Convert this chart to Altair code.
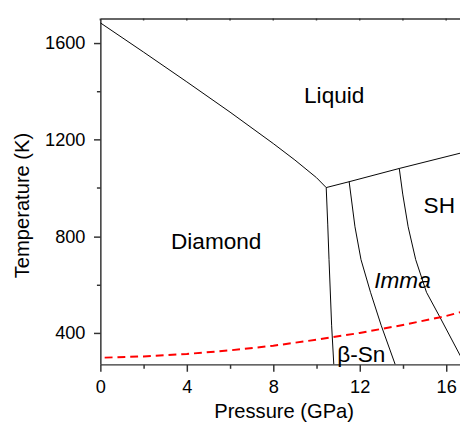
import altair as alt
import pandas as pd

# ---- data (Pressure in GPa, Temperature in K) ----
melt_P = [0, 2, 4, 6, 8, 9, 10, 10.45]
melt_T = [1682, 1561, 1438, 1313, 1183, 1115, 1042, 1001]

liq_P = [10.45, 11.5, 13.83, 16.64, 17.0]
liq_T = [1001, 1025, 1080, 1143, 1151]

dia_bsn_P = [10.45, 10.52, 10.58, 10.70, 10.80]
dia_bsn_T = [1001, 850, 703, 432, 270]

bsn_imma_P = [11.51, 11.78, 12.06, 12.50, 12.99, 13.64]
bsn_imma_T = [1026, 839, 703, 568, 432, 270]

imma_sh_P = [13.83, 13.99, 14.24, 14.59, 15.09, 15.73, 16.64, 17.0]
imma_sh_T = [1080, 974, 839, 703, 568, 462, 308, 250]

path_P = [0.2, 2, 4, 6, 8, 10, 12, 14, 16, 17]
path_T = [298, 303, 313, 328, 347, 372, 400, 433, 470, 494]

labels = ["Liquid", "Diamond", "SH", "Imma", "β-Sn"]
label_P = [10.82, 5.36, 15.68, 13.98, 12.07]
label_T = [1349, 747, 896, 584, 281]
label_italic = [False, False, False, True, False]

x_major = [0, 4, 8, 12, 16]
x_minor = [2, 6, 10, 14]
x_all = [0, 2, 4, 6, 8, 10, 12, 14, 16]
y_major = [400, 800, 1200, 1600]
y_minor = [600, 1000, 1400]

# ---- tables ----
segs = [("melt", melt_P, melt_T), ("liq", liq_P, liq_T), ("dia_bsn", dia_bsn_P, dia_bsn_T),
        ("bsn_imma", bsn_imma_P, bsn_imma_T), ("imma_sh", imma_sh_P, imma_sh_T)]
rows = []
for name, ps, ts in segs:
    for i, (p, t) in enumerate(zip(ps, ts)):
        rows.append({"P": p, "T": t, "seg": name, "ord": i})
bound_df = pd.DataFrame(rows)
path_df = pd.DataFrame({"P": path_P, "T": path_T, "ord": list(range(len(path_P)))})
lab_df = pd.DataFrame({"P": label_P, "T": label_T, "label": labels, "italic": label_italic})
lab_norm = lab_df[~lab_df["italic"]]
lab_ital = lab_df[lab_df["italic"]]
top_df = pd.DataFrame({"P": x_all})

FONT = "Liberation Sans"
xs = alt.Scale(domain=[0, 16.64], nice=False, zero=False)
ys = alt.Scale(domain=[270, 1700], nice=False, zero=False)

ax_common = dict(grid=False, domainColor="#333", tickColor="#333", domainWidth=1.5, tickWidth=1.5,
                 labelFont=FONT, labelFontSize=18.5, labelColor="black")

x_main = alt.Axis(orient="bottom", values=x_major, tickSize=7, labelPadding=6.5, labelFlush=False,
                  format="d", title="Pressure (GPa)", titleFont=FONT, titleFontSize=20.5,
                  titleFontWeight="normal", titleColor="black", titleX=186.5, titleY=54,
                  titleBaseline="alphabetic", titleAlign="center", **ax_common)
y_main = alt.Axis(orient="left", values=y_major, tickSize=7, labelPadding=8.7, format="d",
                  title="Temperature (K)", titleFont=FONT, titleFontSize=20.5, titleFontWeight="normal",
                  titleColor="black", titleAngle=270, titleX=-73.2, titleY=189.8,
                  titleBaseline="alphabetic", titleAlign="center", **ax_common)
x_min = alt.Axis(orient="bottom", values=x_minor, tickSize=4, labels=False, domain=False, title=None,
                 grid=False, tickColor="#333", tickWidth=1.5)
y_min = alt.Axis(orient="left", values=y_minor, tickSize=4, labels=False, domain=False, title=None,
                 grid=False, tickColor="#333", tickWidth=1.5)
x_top = alt.Axis(orient="top", values=x_all, ticks=False, labels=False, title=None, grid=False,
                 domainColor="#333", domainWidth=1.5)

bounds = alt.Chart(bound_df).mark_line(color="black", strokeWidth=1, clip=True).encode(
    x=alt.X("P:Q", scale=xs, axis=x_main),
    y=alt.Y("T:Q", scale=ys, axis=y_main),
    detail="seg:N",
    order="ord:Q",
)

path = alt.Chart(path_df).mark_line(color="red", strokeWidth=2, strokeDash=[8, 5], clip=True).encode(
    x=alt.X("P:Q", scale=xs, axis=x_min),
    y=alt.Y("T:Q", scale=ys, axis=y_min),
    order="ord:Q",
)

text_n = alt.Chart(lab_norm).mark_text(font=FONT, fontSize=23, color="black", align="center",
                                       baseline="alphabetic").encode(
    x=alt.X("P:Q", scale=xs, axis=x_top),
    y=alt.Y("T:Q", scale=ys, axis=None),
    text="label:N",
)

text_i = alt.Chart(lab_ital).mark_text(font=FONT, fontSize=23, fontStyle="italic", color="black",
                                       align="center", baseline="alphabetic").encode(
    x=alt.X("P:Q", scale=xs, axis=None),
    y=alt.Y("T:Q", scale=ys, axis=None),
    text="label:N",
)

# short inward tick marks along the top frame
top_ticks = alt.Chart(top_df).mark_rule(color="#333", strokeWidth=1.5).encode(
    x=alt.X("P:Q", scale=xs, axis=None),
    y=alt.Y(datum=1700, scale=ys, axis=None),
    y2=alt.datum(1692),
)

chart = alt.layer(bounds, path, text_n, text_i, top_ticks).resolve_axis(
    x="independent", y="independent"
).properties(
    width=366, height=352,
    autosize=alt.AutoSizeParams(type="none"),
    padding={"left": 94, "top": 7, "right": 0, "bottom": 58},
).configure_view(stroke=None)

chart.save("out.html", embed_options={"renderer": "svg", "actions": False})
